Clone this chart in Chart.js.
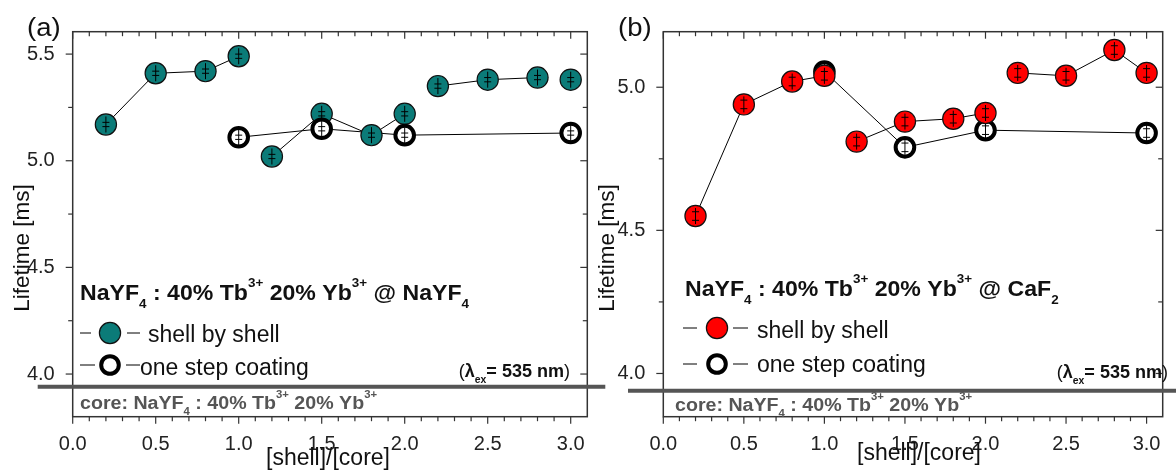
<!DOCTYPE html>
<html>
<head>
<meta charset="utf-8">
<script src="https://cdn.jsdelivr.net/npm/chart.js@4.4.1/dist/chart.umd.min.js"></script>
<style>
  html, body { margin: 0; padding: 0; background: #fff; }
  #wrap { position: relative; width: 1176px; height: 473px; overflow: hidden; }
  canvas { position: absolute; top: 0; }
  #cvA { left: 0; }
  #cvB { left: 588px; }
</style>
</head>
<body>
<div id="wrap">
  <canvas id="cvA" width="610" height="473"></canvas>
  <canvas id="cvB" width="588" height="473"></canvas>
</div>
<script>
"use strict";

// ------------------------------------------------------------
// dati
// ------------------------------------------------------------
const shellRatio   = [0.2, 0.5, 0.8, 1.0, 1.2, 1.5, 1.8, 2.0, 2.2, 2.5, 2.8, 3.0];
const oneStepRatio = [1.0, 1.5, 2.0, 3.0];

// (a) guscio NaYF4
const nayfShellByShell = [5.17, 5.41, 5.42, 5.49, 5.02, 5.22, 5.12, 5.22, 5.35, 5.38, 5.39, 5.38];
const nayfOneStep      = [5.11, 5.15, 5.12, 5.13];
const nayfErr          = 0.01;

// (b) guscio CaF2
const caf2ShellByShell = [4.55, 4.94, 5.02, 5.04, 4.81, 4.88, 4.89, 4.91, 5.05, 5.04, 5.13, 5.05];
const caf2OneStep      = [5.055, 4.79, 4.85, 4.84];
const caf2Err          = 0.015;

// tempo di vita del core (linea grigia)
const coreLifetime = [3.94];

// etichette degli assi
const xTickValues = [0, 0.5, 1.0, 1.5, 2.0, 2.5, 3.0];
const yTicksA     = [4.0, 4.5, 5.0, 5.5];
const yTicksB     = [4.0, 4.5, 5.0];

const FONT = "'Liberation Sans', Arial, sans-serif";

// testo con pedici / apici: runs = [[testo, "sub"|"sup"|"", bold?], ...]
// sx = allungamento orizzontale del testo
function drawRich(ctx, runs, x, y, size, bold, align, sx) {
    sx = sx || 1;
    let parti = runs.map(function (r) {
        let k = r[1] || "";
        let b = (r[2] === undefined) ? bold : r[2];
        let s = k ? size * 0.58 : size;
        let font = (b ? "bold " : "") + s.toFixed(1) + "px " + FONT;
        ctx.font = font;
        return {
            t: r[0], font: font, w: ctx.measureText(r[0]).width,
            dy: k === "sub" ? size * 0.36 : (k === "sup" ? -size * 0.6 : 0)
        };
    });
    let totale = parti.reduce((s, q) => s + q.w, 0) * sx;
    let x0 = align === "right" ? x - totale : x;
    ctx.save();
    ctx.translate(x0, y);
    ctx.scale(sx, 1);
    ctx.textAlign = "left";
    ctx.textBaseline = "alphabetic";
    let cx = 0;
    parti.forEach(function (q) {
        ctx.font = q.font;
        ctx.fillText(q.t, cx, q.dy);
        cx += q.w;
    });
    ctx.restore();
}

function line(ctx, x1, y1, x2, y2) {
    ctx.beginPath();
    ctx.moveTo(x1, y1);
    ctx.lineTo(x2, y2);
    ctx.stroke();
}

const coreRuns = [["core: NaYF"], ["4", "sub"], [" : 40% Tb"], ["3+", "sup"], [" 20% Yb"], ["3+", "sup"]];
const lambdaRuns = [["(", "", false], ["\u03bb"], ["ex", "sub"], ["= 535 nm"], [")", "", false]];

// ------------------------------------------------------------
// un pannello = un grafico Chart.js
// ------------------------------------------------------------
function creaPannello(p) {
    let shellPts = shellRatio.map((x, i) => ({ x: x, y: p.shell[i] }));
    let stepPts  = oneStepRatio.map((x, i) => ({ x: x, y: p.oneStep[i] }));

    let deco = {
        id: "deco" + p.id,

        // barre d'errore disegnate subito dopo ogni serie di marker
        afterDatasetDraw(chart, args) {
            let ds = chart.data.datasets[args.index];
            if (!ds.errBar) return;
            let ctx = chart.ctx, ys = chart.scales.y;
            ctx.save();
            ctx.strokeStyle = "#000";
            ctx.lineWidth = 1;
            args.meta.data.forEach(function (el, i) {
                let v = ds.data[i].y;
                let top = ys.getPixelForValue(v + p.err);
                let bot = ys.getPixelForValue(v - p.err);
                line(ctx, el.x, el.y - 8, el.x, el.y + 8);
                line(ctx, el.x - 3.5, top, el.x + 3.5, top);
                line(ctx, el.x - 3.5, bot, el.x + 3.5, bot);
            });
            ctx.restore();
        },

        afterDraw(chart) {
            let ctx = chart.ctx, a = chart.chartArea;
            let xs = chart.scales.x, ys = chart.scales.y;
            ctx.save();

            // cornice
            ctx.strokeStyle = "#333";
            ctx.lineWidth = 1.5;
            ctx.strokeRect(a.left, a.top, a.right - a.left, a.bottom - a.top);

            // tacche x: fuori in basso, dentro in alto
            ctx.lineWidth = 1.2;
            for (let k = 0; k <= 30; k++) {
                let px = xs.getPixelForValue(k / 10);
                let len = (k % 5 === 0) ? 7 : 4.5;
                line(ctx, px, a.bottom, px, a.bottom + len);
                line(ctx, px, a.top, px, a.top + len);
            }
            // tacche y: fuori a sinistra, dentro a destra
            for (let k = Math.ceil(ys.min * 4); k <= Math.floor(ys.max * 4); k++) {
                let py = ys.getPixelForValue(k / 4);
                let len = (k % 2 === 0) ? 7 : 4.5;
                line(ctx, a.left - len, py, a.left, py);
                line(ctx, a.right - len, py, a.right, py);
            }

            // linea del core
            let cy = ys.getPixelForValue(coreLifetime[0]);
            ctx.strokeStyle = "#555";
            ctx.lineWidth = 4;
            line(ctx, a.left + p.coreFrom, cy, a.right + p.coreTo, cy);

            // lettera del pannello
            ctx.fillStyle = "#111";
            drawRich(ctx, [[p.letter]], p.letterX, 36, 25, false, "left", 1.1);

            // titoli degli assi
            ctx.font = "23px " + FONT;
            ctx.textAlign = "center";
            ctx.textBaseline = "middle";
            ctx.fillText("[shell]/[core]", p.xTitle[0], p.xTitle[1]);
            ctx.save();
            ctx.translate(p.yTitle[0], p.yTitle[1]);
            ctx.rotate(-Math.PI / 2);
            ctx.font = "22.5px " + FONT;
            ctx.fillText("Lifetime [ms]", 0, 0);
            ctx.restore();

            // titolo del campione
            drawRich(ctx, p.titleRuns, p.title[0], p.title[1], 22, true, "left", 1.05);

            // legenda
            p.legend.forEach(function (r, i) {
                ctx.strokeStyle = "#000";
                ctx.lineWidth = 1;
                line(ctx, r.seg[0], r.cy, r.seg[1], r.cy);
                line(ctx, r.seg[2], r.cy, r.seg[3], r.cy);
                ctx.beginPath();
                if (i === 0) {
                    ctx.arc(r.mx, r.cy, 10.6, 0, Math.PI * 2);
                    ctx.fillStyle = p.color;
                    ctx.fill();
                    ctx.lineWidth = 1.2;
                    ctx.strokeStyle = "#111";
                    ctx.stroke();
                } else {
                    ctx.arc(r.mx, r.cy, 8.8, 0, Math.PI * 2);
                    ctx.fillStyle = "#fff";
                    ctx.fill();
                    ctx.lineWidth = 4;
                    ctx.strokeStyle = "#000";
                    ctx.stroke();
                }
                ctx.fillStyle = "#111";
                ctx.font = "23px " + FONT;
                ctx.textAlign = "left";
                ctx.textBaseline = "alphabetic";
                ctx.fillText(r.text, r.tx, r.ty);
            });

            // lunghezza d'onda di eccitazione
            drawRich(ctx, lambdaRuns, p.lambda[0], p.lambda[1], 17.5, true, "right", 1.03);

            // etichetta del core
            ctx.fillStyle = "#555";
            drawRich(ctx, coreRuns, p.core[0], p.core[1], 18, true, "left", 1.09);

            ctx.restore();
        }
    };

    new Chart(document.getElementById(p.id), {
        type: "line",
        data: {
            datasets: [
                {   // linee shell by shell (spezzate fra i gruppi)
                    data: shellPts, borderColor: "#000", borderWidth: 1, pointRadius: 0, order: 5,
                    segment: {
                        borderColor: c => p.breaks.includes(c.p0DataIndex) ? "rgba(0,0,0,0)" : "#000"
                    }
                },
                {   // linea one step
                    data: stepPts, borderColor: "#000", borderWidth: 1, pointRadius: 0, order: 4
                },
                {   // marker shell by shell
                    data: shellPts, showLine: false, pointRadius: 10.6, pointBorderWidth: 1.2,
                    pointBackgroundColor: p.color, pointBorderColor: "#111",
                    order: p.shellOrder, errBar: true
                },
                {   // marker one step (cerchi vuoti)
                    data: stepPts, showLine: false, pointRadius: 9.3, pointBorderWidth: 4,
                    pointBackgroundColor: "#fff", pointBorderColor: "#000",
                    order: p.stepOrder, errBar: true
                }
            ]
        },
        options: {
            responsive: false,
            animation: false,
            events: [],
            layout: { padding: { top: 31.7, right: p.padRight, left: 0, bottom: 0 } },
            plugins: { legend: { display: false }, tooltip: { enabled: false } },
            scales: {
                x: {
                    type: "linear", min: 0, max: 3.1,
                    grid: { display: false }, border: { display: false },
                    afterBuildTicks: s => { s.ticks = xTickValues.map(v => ({ value: v })); },
                    afterFit: s => { s.height = 56.3; },
                    ticks: {
                        autoSkip: false, maxRotation: 0, padding: 8, color: "#222",
                        font: { family: FONT, size: 20 },
                        callback: v => Number(v).toFixed(1)
                    }
                },
                y: {
                    min: p.yMin, max: p.yMax,
                    grid: { display: false }, border: { display: false },
                    afterBuildTicks: s => { s.ticks = p.yTicks.map(v => ({ value: v })); },
                    afterFit: s => { s.width = p.axisWidth; },
                    ticks: {
                        autoSkip: false, padding: 10, color: "#222",
                        font: { family: FONT, size: 20 },
                        callback: v => Number(v).toFixed(1)
                    }
                }
            }
        },
        plugins: [deco]
    });
}

// ------------------------------------------------------------
// avvio
// ------------------------------------------------------------
creaPannello({
    id: "cvA", letter: "(a)", letterX: 27, color: "#0b7b78",
    shell: nayfShellByShell, oneStep: nayfOneStep, err: nayfErr,
    breaks: [3, 7, 10], shellOrder: 2, stepOrder: 1,
    yMin: 3.8, yMax: 5.605, yTicks: yTicksA, axisWidth: 72.7, padRight: 22.7,
    coreFrom: -35, coreTo: 18,
    xTitle: [328, 459], yTitle: [22.5, 248],
    title: [80, 300],
    titleRuns: [["NaYF"], ["4", "sub"], [" : 40% Tb"], ["3+", "sup"], [" 20% Yb"], ["3+", "sup"], [" @ NaYF"], ["4", "sub"]],
    legend: [
        { seg: [80, 91, 127, 140], mx: 110, cy: 333, text: "shell by shell", tx: 148, ty: 341.7 },
        { seg: [80, 95, 126, 140], mx: 110, cy: 365, text: "one step coating", tx: 140, ty: 374.5 }
    ],
    lambda: [570, 377], core: [80, 409]
});

creaPannello({
    id: "cvB", letter: "(b)", letterX: 30, color: "#ff0000",
    shell: caf2ShellByShell, oneStep: caf2OneStep, err: caf2Err,
    breaks: [3, 7], shellOrder: 1, stepOrder: 2,
    yMin: 3.849, yMax: 5.194, yTicks: yTicksB, axisWidth: 75.3, padRight: 1,
    coreFrom: -35.3, coreTo: 20,
    xTitle: [331, 454], yTitle: [20, 248],
    title: [97, 296],
    titleRuns: [["NaYF"], ["4", "sub"], [" : 40% Tb"], ["3+", "sup"], [" 20% Yb"], ["3+", "sup"], [" @ CaF"], ["2", "sub"]],
    legend: [
        { seg: [95, 109, 145, 160], mx: 129, cy: 328, text: "shell by shell", tx: 169, ty: 338 },
        { seg: [95, 109, 145, 160], mx: 129, cy: 364, text: "one step coating", tx: 169, ty: 372 }
    ],
    lambda: [580, 378], core: [87, 411]
});
</script>
</body>
</html>
